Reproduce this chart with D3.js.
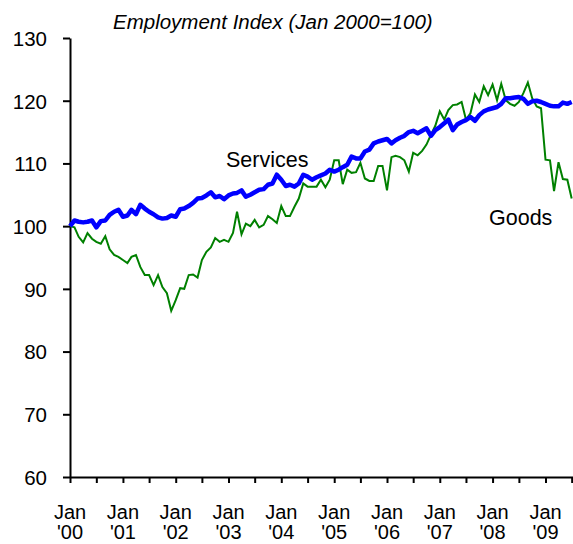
<!DOCTYPE html>
<html>
<head>
<meta charset="utf-8">
<script src="https://cdn.jsdelivr.net/npm/d3@7"></script>
<style>
  html, body { margin: 0; padding: 0; background: #fff; }
  svg { display: block; }
  text { font-family: "Liberation Sans", Arial, sans-serif; fill: #000; }
</style>
</head>
<body>
<div id="chart"></div>
<script>
// monthly index values, Jan 2000 = 100, starting Jan 2000
var startYear = 2000;
var goods = [
  100.0, 99.8, 98.3, 97.4, 98.9, 98.0, 97.5, 97.2, 98.4, 96.3, 95.4, 95.1,
  94.6, 94.1, 95.1, 95.4, 93.5, 92.2, 92.2, 90.6, 92.2, 90.3, 89.3, 86.5,
  88.2, 90.1, 90.0, 92.2, 92.3, 91.8, 94.6, 95.9, 96.6, 98.1, 97.5, 97.8,
  97.5, 98.9, 102.3, 98.7, 100.4, 100.0, 101.0, 99.8, 100.2, 101.6, 101.1, 100.5,
  103.2, 101.6, 101.6, 103.1, 104.4, 106.8, 106.3, 106.3, 106.3, 107.4, 106.2, 107.4,
  110.5, 110.5, 106.7, 109.0, 108.5, 108.6, 110.1, 107.6, 107.2, 107.2, 109.6, 109.6,
  105.7, 111.0, 111.2, 111.0, 110.5, 108.7, 111.7, 111.3, 112.0, 113.0, 114.6, 116.0,
  118.3, 117.0, 118.5, 119.3, 119.4, 119.8, 117.0, 118.0, 121.0, 119.8, 122.3, 120.9,
  122.6, 120.1, 122.7, 120.1, 119.5, 119.2, 119.8, 121.2, 122.9, 120.4, 119.1, 118.8,
  110.6, 110.5, 105.6, 110.2, 107.5, 107.4, 104.4
];
var services = [
  100.0, 100.9, 100.7, 100.6, 100.7, 100.9, 99.8, 100.8, 100.9, 101.8, 102.3, 102.6,
  101.5, 101.7, 102.6, 101.9, 103.4, 102.8, 102.3, 101.9, 101.4, 101.2, 101.3, 101.7,
  101.5, 102.7, 102.8, 103.2, 103.7, 104.4, 104.5, 104.9, 105.4, 104.6, 104.8, 104.3,
  104.9, 105.2, 105.3, 105.7, 104.7, 105.0, 105.4, 105.8, 105.9, 106.6, 106.8, 108.2,
  107.4, 106.4, 106.6, 106.3, 106.8, 108.2, 107.9, 107.4, 107.8, 108.1, 108.4, 109.0,
  108.7, 109.0, 109.4, 109.8, 111.1, 110.8, 110.8, 111.9, 112.2, 113.2, 113.5, 113.7,
  113.9, 113.2, 113.7, 114.1, 114.4, 115.0, 115.2, 114.8, 115.2, 115.6, 114.4, 115.3,
  115.8, 116.4, 117.0, 115.3, 116.2, 116.6, 116.9, 117.4, 116.8, 117.7, 118.3, 118.6,
  118.8, 119.0, 119.5, 120.4, 120.4, 120.5, 120.6, 120.3, 119.5, 119.9, 120.0, 119.8,
  119.5, 119.2, 119.1, 119.1, 119.7, 119.5, 119.8
];
var yTicks = [60, 70, 80, 90, 100, 110, 120, 130];
var titleText = "Employment Index (Jan 2000=100)";
var seriesLabels = ["Services", "Goods"];

var width = 573, height = 544;

function monthDate(i) { return new Date(startYear, i, 1); }

var x = d3.scaleTime()
    .domain([new Date(2000, 0, 1), new Date(2009, 0, 1)])
    .range([70, 545.5]);
var y = d3.scaleLinear()
    .domain([60, 130])
    .range([477, 38]);

var svg = d3.select("#chart").append("svg")
    .attr("width", width)
    .attr("height", height);

// title
svg.append("text")
    .attr("x", 113)
    .attr("y", 29)
    .style("font-size", "20.5px")
    .style("font-style", "italic")
    .text(titleText);

// x axis, ticks every 6 months, labels on January
var axisEnd = new Date(2009, 11, 1);
var xAxisScale = x.copy().domain([x.domain()[0], axisEnd]).range([x(x.domain()[0]), x(axisEnd)]);
var tickDates = d3.timeMonth.every(6).range(new Date(2000, 0, 1), new Date(2009, 8, 1));

var gx = svg.append("g")
    .attr("transform", "translate(0," + y(60) + ")")
    .call(d3.axisBottom(xAxisScale)
      .tickValues(tickDates)
      .tickSize(6)
      .tickSizeOuter(0)
      .tickFormat(""));
gx.select(".domain").attr("stroke", "#000").attr("stroke-width", 2);
gx.selectAll(".tick line").attr("stroke", "#000").attr("stroke-width", 2);

var janTicks = tickDates.filter(function(d) { return d.getMonth() === 0; });
var xl = svg.append("g").selectAll("text").data(janTicks).enter()
  .append("text")
    .attr("text-anchor", "middle")
    .style("font-size", "20px");
xl.append("tspan")
    .attr("x", function(d) { return x(d); })
    .attr("y", 519)
    .text("Jan");
xl.append("tspan")
    .attr("x", function(d) { return x(d); })
    .attr("y", 539)
    .text(function(d) { return "'" + String(d.getFullYear()).slice(2); });

// y axis
var gy = svg.append("g")
    .attr("transform", "translate(70,0)")
    .call(d3.axisLeft(y)
      .tickValues(yTicks)
      .tickSize(7)
      .tickSizeOuter(0)
      .tickPadding(16));
gy.select(".domain").attr("stroke", "#000").attr("stroke-width", 2);
gy.selectAll(".tick line").attr("stroke", "#000").attr("stroke-width", 2);
gy.selectAll(".tick text")
    .style("font-size", "20.5px")
    .style("font-family", "'Liberation Sans', Arial, sans-serif")
    .attr("dy", "0.36em");

// lines
var line = d3.line()
    .x(function(d, i) { return x(monthDate(i)); })
    .y(function(d) { return y(d); });

svg.append("path")
    .datum(goods)
    .attr("fill", "none")
    .attr("stroke", "#008000")
    .attr("stroke-width", 2)
    .attr("stroke-linejoin", "miter")
    .attr("d", line);

svg.append("path")
    .datum(services)
    .attr("fill", "none")
    .attr("stroke", "#0000ff")
    .attr("stroke-width", 4.5)
    .attr("stroke-linejoin", "round")
    .attr("d", line);

// series labels
svg.append("text")
    .attr("x", 226)
    .attr("y", 167)
    .style("font-size", "21.5px")
    .text(seriesLabels[0]);
svg.append("text")
    .attr("x", 489)
    .attr("y", 225)
    .style("font-size", "21.5px")
    .text(seriesLabels[1]);
</script>
</body>
</html>
